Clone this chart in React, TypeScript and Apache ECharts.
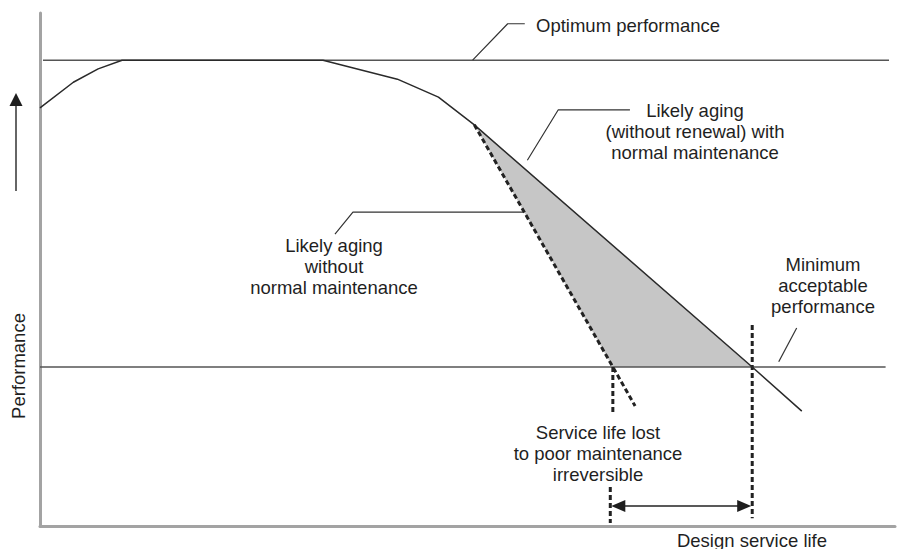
import React, { useEffect, useRef } from "react";
import * as echarts from "echarts";

// Performance (0-100) against service time (0-100), read from the schematic
const optimumLevel = 90.8;
const minimumLevel = 31.0;
const agingWithMaintenance = [
  [0, 81.5], [3.9, 86.5], [6.8, 89.1], [9.6, 90.8], [33.1, 90.8],
  [41.8, 87.1], [46.6, 83.6], [50.8, 78.2], [83.3, 31.0], [89.1, 22.4],
];
const agingWithoutMaintenance = [[50.8, 78.2], [67.0, 31.0], [69.6, 23.4]];
const optimumLine = [[0.35, optimumLevel], [99.3, optimumLevel]];
const minimumLine = [[0, minimumLevel], [98.9, minimumLevel]];
const lossArea = [[50.8, 78.2], [83.3, 31.0], [67.0, 31.0]];
const designLifeMarker = [[83.3, 39.2], [83.3, 1.5]];
const lostLifeMarkerUpper = [[67.0, 31.0], [67.0, 22.0]];
const lostLifeMarkerLower = [[66.7, 7.6], [66.7, 0.6]];
const lostLifeSpanStart = 66.7;
const lostLifeSpanEnd = 83.3;
const lostLifeSpanLevel = 3.9;
const leaderOptimum = [[50.6, optimumLevel], [54.7, 97.9], [56.7, 97.9]];
const leaderWithMaintenance = [[57.0, 71.3], [60.6, 81.1], [69.0, 81.1]];
const leaderWithoutMaintenance = [[34.5, 56.9], [36.6, 61.2], [56.5, 61.2]];
const leaderMinimum = [[86.4, 32.0], [88.5, 38.6]];

const labelOptimum = "Optimum performance";
const labelWithMaintenance = "Likely aging\n(without renewal) with\nnormal maintenance";
const labelWithoutMaintenance = "Likely aging\nwithout\nnormal maintenance";
const labelMinimum = "Minimum\nacceptable\nperformance";
const labelLost = "Service life lost\nto poor maintenance\nirreversible";
const labelDesign = "Design service life";
const labelYAxis = "Performance";

const FONT = "'Liberation Sans', Arial, Helvetica, sans-serif";
const TEXT_COLOR = "#1f1f1f";

function lineSeries(name: string, data: number[][], color: string, width: number, dashed = false, z = 3) {
  return {
    name,
    type: "line",
    data,
    symbol: "none",
    silent: true,
    z,
    lineStyle: { color, width, type: dashed ? [5, 3] : "solid", cap: "butt" },
  };
}

function text(str: string, x: number, y: number, extra: any = {}, align = "center") {
  return {
    type: "text",
    x,
    y,
    silent: true,
    z: 10,
    style: {
      text: str,
      fill: TEXT_COLOR,
      fontSize: 18.5,
      fontFamily: FONT,
      align,
      verticalAlign: "middle",
      lineHeight: 21,
    },
    ...extra,
  };
}

export default function App() {
  const ref = useRef<HTMLDivElement>(null);
  useEffect(() => {
    document.body.style.margin = "0";
    if (!ref.current) return;
    const chart = echarts.init(ref.current, undefined, { renderer: "svg" });
    const hiddenAxis = {
      type: "value",
      min: 0,
      max: 100,
      axisLine: { show: true, onZero: false, lineStyle: { color: "#a3a3a3", width: 3 } },
      axisTick: { show: false },
      axisLabel: { show: false },
      splitLine: { show: false },
    };
    chart.setOption({
      animation: false,
      backgroundColor: "#ffffff",
      grid: { left: 40, right: 3, top: 13, bottom: 23, containLabel: false },
      xAxis: hiddenAxis,
      yAxis: hiddenAxis,
      series: [
        {
          name: "Loss area",
          type: "custom",
          coordinateSystem: "cartesian2d",
          silent: true,
          z: 1,
          data: [[0, 0]],
          renderItem: (_p: any, api: any) => ({
            type: "polygon",
            shape: { points: lossArea.map((p) => api.coord(p)) },
            style: { fill: "#c6c6c6", stroke: "none" },
          }),
        },
        lineSeries("Optimum performance", optimumLine, "#555555", 1.5),
        lineSeries("Minimum acceptable performance", minimumLine, "#555555", 1.5),
        lineSeries("Likely aging with normal maintenance", agingWithMaintenance, "#2a2a2a", 1.5, false, 4),
        lineSeries("Likely aging without normal maintenance", agingWithoutMaintenance, "#222222", 3, true, 4),
        lineSeries("Design life marker", designLifeMarker, "#222222", 3, true),
        lineSeries("Lost life marker upper", lostLifeMarkerUpper, "#222222", 3, true),
        lineSeries("Lost life marker lower", lostLifeMarkerLower, "#222222", 3, true),
        lineSeries("Leader optimum", leaderOptimum, "#333333", 1.2),
        lineSeries("Leader with maintenance", leaderWithMaintenance, "#333333", 1.2),
        lineSeries("Leader without maintenance", leaderWithoutMaintenance, "#333333", 1.2),
        lineSeries("Leader minimum", leaderMinimum, "#333333", 1.2),
        {
          name: "Service life lost span",
          type: "custom",
          coordinateSystem: "cartesian2d",
          silent: true,
          z: 5,
          data: [[lostLifeSpanStart, lostLifeSpanLevel]],
          renderItem: (_p: any, api: any) => {
            const a = api.coord([lostLifeSpanStart, lostLifeSpanLevel]);
            const b = api.coord([lostLifeSpanEnd, lostLifeSpanLevel]);
            return {
              type: "group",
              children: [
                {
                  type: "line",
                  shape: { x1: a[0] + 10, y1: a[1], x2: b[0] - 10, y2: b[1] },
                  style: { stroke: "#222222", lineWidth: 1.5 },
                },
                {
                  type: "polygon",
                  shape: { points: [[a[0] + 1, a[1]], [a[0] + 15, a[1] - 6], [a[0] + 15, a[1] + 6]] },
                  style: { fill: "#1e1e1e" },
                },
                {
                  type: "polygon",
                  shape: { points: [[b[0] - 1, b[1]], [b[0] - 15, b[1] - 6], [b[0] - 15, b[1] + 6]] },
                  style: { fill: "#1e1e1e" },
                },
              ],
            };
          },
        },
      ],
      graphic: [
        text(labelOptimum, 536, 25, {}, "left"),
        text(labelWithMaintenance, 695, 131),
        text(labelWithoutMaintenance, 334, 266),
        text(labelMinimum, 823, 285),
        text(labelLost, 598, 453),
        text(labelDesign, 752, 540),
        text(labelYAxis, 18, 366, { rotation: Math.PI / 2 }),
        {
          type: "line",
          silent: true,
          shape: { x1: 16, y1: 191, x2: 16, y2: 104 },
          style: { stroke: "#333333", lineWidth: 1.5 },
        },
        {
          type: "polygon",
          silent: true,
          shape: { points: [[16, 93], [9.5, 106], [22.5, 106]] },
          style: { fill: "#1e1e1e" },
        },
      ],
    });
    return () => chart.dispose();
  }, []);
  return <div ref={ref} style={{ width: 898, height: 549 }} />;
}
